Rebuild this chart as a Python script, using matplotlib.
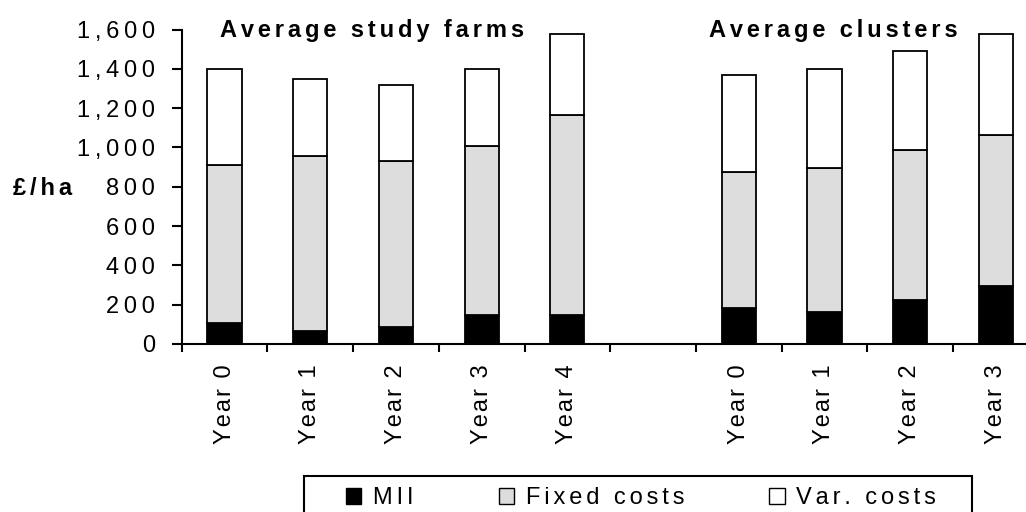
import matplotlib
matplotlib.use("Agg")
import matplotlib.pyplot as plt
from matplotlib.patches import Patch, Rectangle
import numpy as np

# ---------------- data ----------------
study_labels = ["Year 0", "Year 1", "Year 2", "Year 3", "Year 4"]
cluster_labels = ["Year 0", "Year 1", "Year 2", "Year 3"]

mii_study = [105, 65, 85, 145, 145]
fixed_study = [805, 890, 845, 860, 1020]
var_study = [490, 395, 390, 395, 410]

mii_cluster = [185, 165, 225, 295]
fixed_cluster = [690, 730, 760, 770]
var_cluster = [495, 505, 505, 510]

series_names = ["MII", "Fixed costs", "Var. costs"]
series_colors = ["black", "#DDDDDD", "white"]
group_titles = ["Average study farms", "Average clusters"]
y_label = "£/ha"
yticks = [0, 200, 400, 600, 800, 1000, 1200, 1400, 1600]

# ---------------- style ----------------
W, H = 1026, 512
plt.rcParams["font.family"] = ["Liberation Sans", "DejaVu Sans"]
FS = 17

THIN = "\u2009"
SIXTH = "\u2006"
HAIR = "\u200A"


def sp(s, gap=THIN):
    """Emulate the wide letter spacing of the original."""
    return gap.join(s)


fig = plt.figure(figsize=(W / 100, H / 100), dpi=100)
ax = fig.add_axes([181.7 / W, 168 / H, 857 / W, 314.5 / H])

x_study = np.arange(len(study_labels))
x_cluster = np.arange(len(cluster_labels)) + len(study_labels) + 1
x_all = np.concatenate([x_study, x_cluster])
labels_all = study_labels + cluster_labels

mii = np.array(mii_study + mii_cluster)
fixed = np.array(fixed_study + fixed_cluster)
var = np.array(var_study + var_cluster)

bw = 0.4
lw = 1.3
ax.bar(x_all, mii, width=bw, color=series_colors[0], edgecolor="black", linewidth=lw)
ax.bar(x_all, fixed, bottom=mii, width=bw, color=series_colors[1], edgecolor="black", linewidth=lw)
ax.bar(x_all, var, bottom=mii + fixed, width=bw, color=series_colors[2], edgecolor="black", linewidth=lw)

ax.set_xlim(-0.5, 9.5)
ax.set_ylim(0, 1600)

for s in ["top", "right"]:
    ax.spines[s].set_visible(False)
for s in ["left", "bottom"]:
    ax.spines[s].set_linewidth(1.5)

ax.set_yticks(yticks, [sp(f"{v:,}") for v in yticks])
ax.tick_params(axis="y", direction="out", length=7, width=1.5, pad=12, labelsize=FS)

ax.set_xticks(np.arange(-0.5, 9.5, 1))
ax.set_xticklabels([])
ax.tick_params(axis="x", which="major", direction="out", length=6, width=1.5)
ax.set_xticks(x_all, minor=True)
ax.set_xticklabels([sp(l, HAIR) for l in labels_all], minor=True, rotation=90, fontsize=FS)
ax.tick_params(axis="x", which="minor", length=0, pad=15)

# group titles
fig.text(220 / W, 1 - 37.3 / H, sp(group_titles[0], SIXTH), fontsize=FS, fontweight="bold", va="baseline", ha="left")
fig.text(709 / W, 1 - 37.3 / H, sp(group_titles[1], SIXTH), fontsize=FS, fontweight="bold", va="baseline", ha="left")

# y label
fig.text(13 / W, 1 - 195 / H, sp(y_label, SIXTH), fontsize=FS, fontweight="bold", va="baseline", ha="left")

# legend
handles = [Patch(facecolor=c, edgecolor="black", linewidth=1.0) for c in series_colors]
fig.legend(handles, [sp(n, SIXTH) for n in series_names], loc="upper left",
           bbox_to_anchor=(346 / W, 1 - 487 / H), ncol=3, frameon=False,
           borderpad=0, borderaxespad=0, handlelength=0.65, handleheight=0.65,
           handletextpad=0.5, columnspacing=3.6, fontsize=FS)
fig.add_artist(Rectangle((304 / W, -0.05), (972 - 304) / W, (1 - 476 / H) + 0.05,
                         transform=fig.transFigure, fill=False, edgecolor="black", linewidth=1.5))

fig.savefig("out.png", dpi=100)
